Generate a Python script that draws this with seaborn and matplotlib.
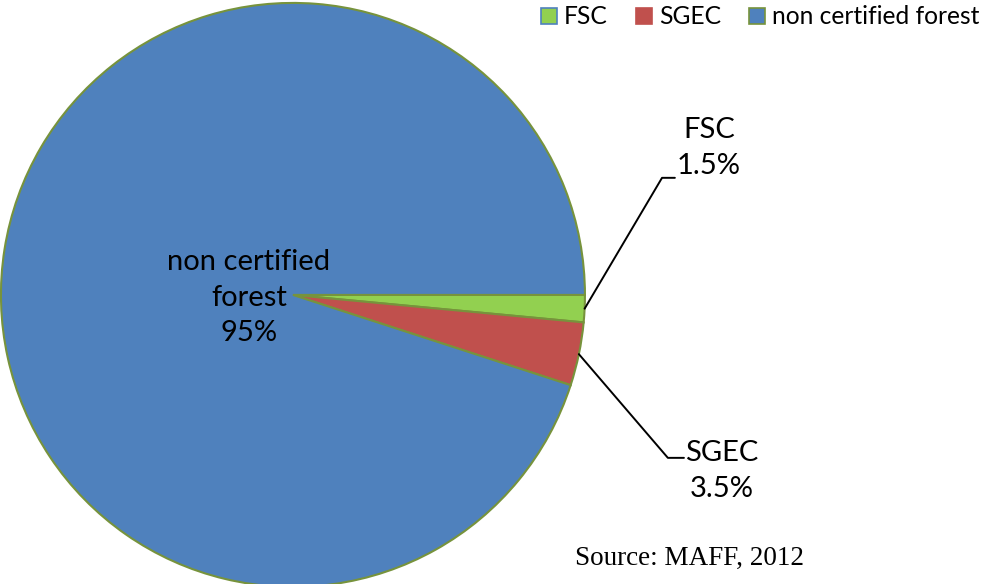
import numpy as np
import matplotlib.pyplot as plt
import seaborn as sns
from matplotlib.patches import Patch

sns.set_theme(style="white")
plt.rcParams['font.family'] = ['Lato', 'DejaVu Sans']
plt.rcParams['text.color'] = 'black'

# data
categories = ["FSC", "SGEC", "non certified forest"]
shares = [1.5, 3.5, 95.0]
pct_labels = ["1.5%", "3.5%", "95%"]
colors = ["#92D050", "#C0504D", "#4F81BD"]
legend_edges = ["#4F81BD", "#C0504D", "#77933C"]

fig = plt.figure(figsize=(9.83, 5.84), dpi=100)
ax = fig.add_axes([0, 0, 1, 1])

wedges, _ = ax.pie(shares, colors=colors, startangle=0, counterclock=False,
                   radius=1.0, center=(0, 0),
                   wedgeprops=dict(edgecolor="#77933C", linewidth=1.5))

ax.set_xlim(-1.003, 2.363)
ax.set_ylim(-0.990, 1.010)
ax.set_aspect("equal")
ax.axis("off")

# mid angles of wedges
mids = []
for w in wedges:
    mids.append(np.deg2rad((w.theta1 + w.theta2) / 2))

fs = 21
# FSC label with leader
a = mids[0]
ax.plot([np.cos(a), 1.264, 1.308], [np.sin(a), 0.401, 0.401], color="black", lw=1.4)
ax.text(1.425, 0.503, f"{categories[0]}\n{pct_labels[0]}", ha="center", va="center",
        fontsize=fs, linespacing=1.45)

# SGEC label with leader
a = mids[1]
ax.plot([np.cos(a), 1.284, 1.339], [np.sin(a), -0.558, -0.558], color="black", lw=1.4)
ax.text(1.469, -0.603, f"{categories[1]}\n{pct_labels[1]}", ha="center", va="center",
        fontsize=fs, linespacing=1.45)

# main label
ax.text(-0.151, -0.01, "non certified\nforest\n" + pct_labels[2], ha="center", va="center",
        fontsize=fs, linespacing=1.45)

handles = [Patch(facecolor=c, edgecolor=e, linewidth=1.2, label=l)
           for c, e, l in zip(colors, legend_edges, categories)]
ax.legend(handles=handles, loc="upper right", bbox_to_anchor=(1.0, 0.997), ncol=3,
          frameon=False, fontsize=17.7, handlelength=0.65, handleheight=0.65,
          handletextpad=0.28, columnspacing=1.14, borderaxespad=0.05, borderpad=0.1)

fig.text(0.585, 0.0445, "Source: MAFF, 2012", family="Liberation Serif", fontsize=19.5,
         ha="left", va="center", color="black")

fig.savefig("out.png", dpi=100)
